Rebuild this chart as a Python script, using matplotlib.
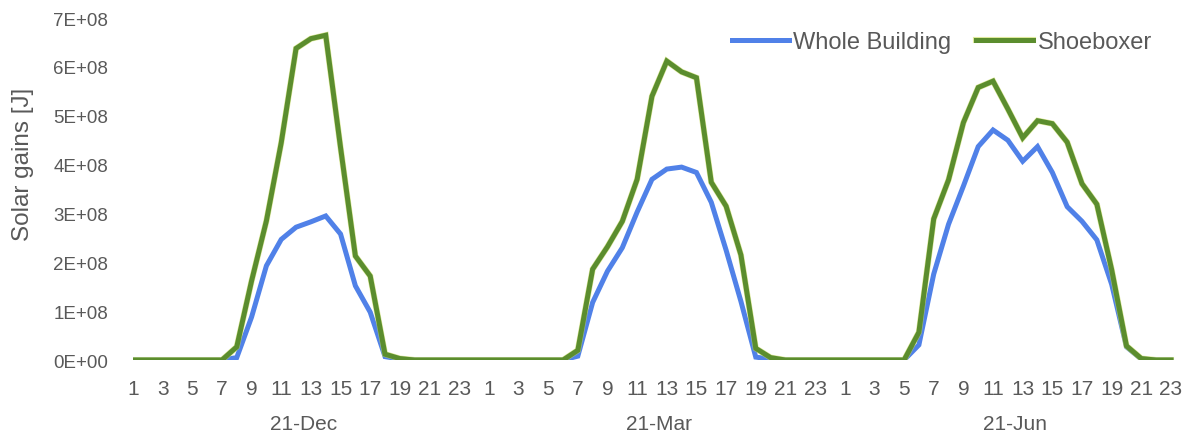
import numpy as np
import matplotlib
matplotlib.use("Agg")
import matplotlib.pyplot as plt
import matplotlib.transforms as mtransforms
import matplotlib.patheffects as pe

plt.rcParams['font.family'] = ['Liberation Sans', 'DejaVu Sans']

# Hourly solar gains for three design days, in units of 1E+08 J
days = ["21-Dec", "21-Mar", "21-Jun"]
hours = list(range(1, 25))

whole_dec = [0, 0, 0, 0, 0, 0, 0, 0.05, 0.88, 1.93, 2.47, 2.72,
             2.83, 2.95, 2.58, 1.52, 0.98, 0.07, 0.02, 0, 0, 0, 0, 0]
shoe_dec = [0, 0, 0, 0, 0, 0, 0, 0.27, 1.62, 2.85, 4.45, 6.38,
            6.58, 6.65, 4.35, 2.13, 1.72, 0.12, 0.03, 0, 0, 0, 0, 0]

whole_mar = [0, 0, 0, 0, 0, 0, 0.08, 1.18, 1.82, 2.30, 3.03, 3.70,
             3.91, 3.95, 3.84, 3.23, 2.25, 1.20, 0.06, 0.02, 0, 0, 0, 0]
shoe_mar = [0, 0, 0, 0, 0, 0, 0.20, 1.86, 2.32, 2.84, 3.70, 5.40,
            6.12, 5.90, 5.78, 3.64, 3.15, 2.15, 0.24, 0.05, 0, 0, 0, 0]

whole_jun = [0, 0, 0, 0, 0, 0.31, 1.76, 2.78, 3.56, 4.37, 4.71, 4.50,
             4.07, 4.37, 3.84, 3.14, 2.84, 2.46, 1.55, 0.27, 0.02, 0, 0, np.nan]
shoe_jun = [0, 0, 0, 0, 0, 0.57, 2.89, 3.69, 4.86, 5.58, 5.71, 5.14,
            4.55, 4.90, 4.84, 4.46, 3.61, 3.19, 1.85, 0.29, 0.03, 0, 0, np.nan]

scale = 1e8
whole = np.array(whole_dec + whole_mar + whole_jun) * scale
shoe = np.array(shoe_dec + shoe_mar + shoe_jun) * scale
x = np.arange(len(whole))

label_color = "#595959"
blue = "#5081E8"
green = "#5B8D2E"

fig = plt.figure(figsize=(11.87, 4.35), dpi=100)
ax = fig.add_axes([0.112, 0.170, 0.887, 0.786])

ax.plot(x, whole, color=blue, lw=3.6, solid_joinstyle="miter",
        label="Whole Building")
ax.plot(x, shoe, color=green, lw=3.6, solid_joinstyle="miter",
        label="Shoeboxer",
        path_effects=[pe.Stroke(linewidth=4.4, foreground="#c9dc5a", alpha=0.6),
                      pe.Normal()])

ax.set_xlim(0, len(x) - 1)
ax.set_ylim(0, 7e8)

yt = np.arange(0, 8) * 1e8
ax.set_yticks(yt)
ax.set_yticklabels(["0E+00"] + [f"{i}E+08" for i in range(1, 8)])

xt = x[::2]
ax.set_xticks(xt)
ax.set_xticklabels([str(hours[i % 24]) for i in xt])

ax.tick_params(axis="y", length=0, pad=18, labelsize=13.5, labelcolor=label_color)
ax.tick_params(axis="x", length=0, pad=14, labelsize=15, labelcolor=label_color)

for s in ax.spines.values():
    s.set_visible(False)

# Day labels under each block of 24 hours
trans = mtransforms.blended_transform_factory(ax.transData, fig.transFigure)
for k, d in enumerate(days):
    ax.text(k * 24 + 11.5, 1 - 425 / 435, d, transform=trans, ha="center",
            va="center", fontsize=15, color=label_color)

fig.text(23 / 1187, 1 - 164.5 / 435, "Solar gains [J]", rotation=90,
         ha="center", va="center", fontsize=17.5, color=label_color)

leg = ax.legend(loc="center right", bbox_to_anchor=(1152 / 1187, 1 - 43 / 435),
                bbox_transform=fig.transFigure, ncol=2, frameon=False,
                fontsize=17, handlelength=2.4, handletextpad=0.2,
                columnspacing=1.05, borderpad=0, borderaxespad=0)
for t in leg.get_texts():
    t.set_color(label_color)

fig.savefig("out.png", dpi=100)
